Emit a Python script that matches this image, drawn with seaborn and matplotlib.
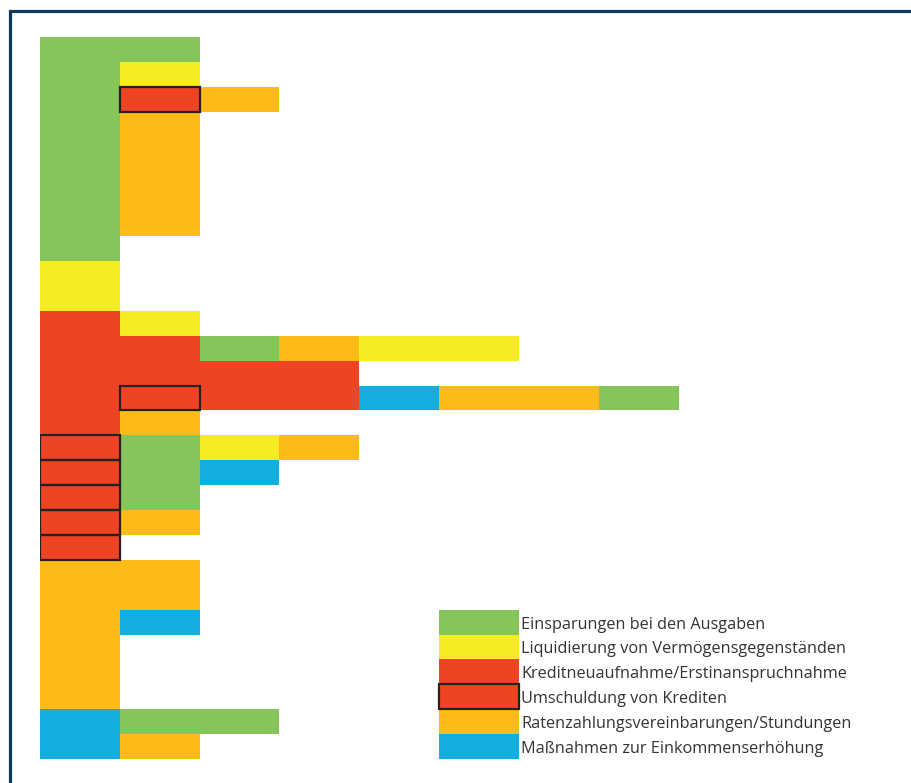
import matplotlib
matplotlib.use("Agg")
import matplotlib.pyplot as plt
import seaborn as sns
import numpy as np
import pandas as pd
from matplotlib.colors import ListedColormap
from matplotlib.patches import Rectangle

# Categories (legend order) and one letter code for each
categories = ["Einsparungen bei den Ausgaben",
              "Liquidierung von Vermögensgegenständen",
              "Kreditneuaufnahme/Erstinanspruchnahme",
              "Umschuldung von Krediten",
              "Ratenzahlungsvereinbarungen/Stundungen",
              "Maßnahmen zur Einkommenserhöhung"]
codes = ["E", "L", "K", "U", "R", "M"]
colors = ["#86c55a", "#f7ec22", "#ef4423", "#ef4423", "#fcbc15", "#14ade2"]

# One string per row of the chart, one letter per column
rows = ["EE", "EL", "EUR", "ER", "ER", "ER", "ER", "ER", "E",
        "L", "L",
        "KL", "KKERLL", "KKKK", "KUKKMRRE", "KR",
        "UELR", "UEM", "UE", "UR", "U",
        "RR", "RR", "RM", "R", "R", "R",
        "MEE", "MR"]
n_cols = 8

grid = np.full((len(rows), n_cols), np.nan)
for i, r in enumerate(rows):
    for j, c in enumerate(r):
        grid[i, j] = codes.index(c)
df = pd.DataFrame(grid)

fig = plt.figure(figsize=(9.11, 7.83), dpi=100)
ax = fig.add_axes([40 / 911, 1 - 759 / 783, 638.5 / 911, 722 / 783])

sns.heatmap(df, mask=df.isna(), cmap=ListedColormap(colors), vmin=-0.5, vmax=5.5,
            cbar=False, xticklabels=False, yticklabels=False, linewidths=0, ax=ax)

# boxed cells = Umschuldung
for i, r in enumerate(rows):
    for j, c in enumerate(r):
        if c == "U":
            ax.add_patch(Rectangle((j, i), 1, 1, fill=False, ec="#222222", lw=1.6, zorder=3))

# legend drawn into the free grid area
leg_col, leg_row = 5, 23
for k, cat in enumerate(categories):
    ax.add_patch(Rectangle((leg_col, leg_row + k), 1, 1, fc=colors[k], ec="none", zorder=2))
    if codes[k] == "U":
        ax.add_patch(Rectangle((leg_col, leg_row + k), 1, 1, fill=False,
                               ec="#222222", lw=1.6, zorder=3))
    ax.text(leg_col + 1.03, leg_row + k + 0.6, cat, va="center", ha="left",
            fontsize=11.7, family="Open Sans", color="#333333")

ax.set_xlim(0, n_cols)
ax.set_ylim(len(rows), 0)
ax.set_axis_off()

# frame
fig.patches.append(Rectangle((9.5 / 911, -0.1), 1.2, 1.1 - 11.5 / 783, transform=fig.transFigure,
                             fill=False, ec="#0e3b5f", lw=2.3))

fig.savefig("out.png", dpi=100)
